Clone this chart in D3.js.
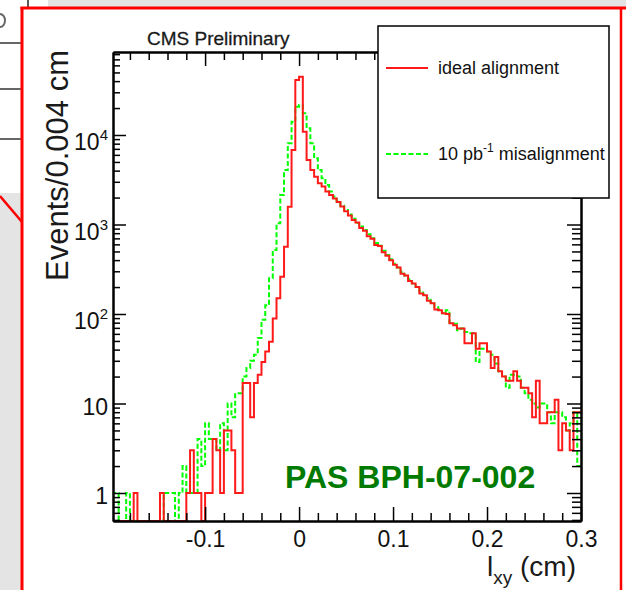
<!DOCTYPE html>
<html><head><meta charset="utf-8">
<script src="https://cdn.jsdelivr.net/npm/d3@7"></script>
<style>html,body{margin:0;padding:0;background:#fff;} svg{display:block;}</style>
</head><body>
<svg id="c" width="626" height="590"></svg>
<script>
// ---- data ----
const binStart = -0.2;
const binWidth = 0.004;
const idealCounts = [
  0,0,0,0,0, 0,1,0,0,0, 0,0,0,1,0, 0,0,0,0,0,
  1,3,1,1,0, 1,1,4,3,1, 5,5,3,1,1,
  17,17,7,17,21, 29,38,49,89,150, 261,565,1580,6800,41200,
  44800,10900,5260,4060,3420, 2890,2650,2330,2140,
  1950,1780,1585,1410,1260,1120,1050,912,851,741,692,589,575,490,447,398,355,331,282,269,234,219,200,170,162,141,132,112,110,
  102,100,79,75,69,69,47,47,61,41,47,47,38,25,33,23,20,18,18,23,18,15,15,13,
  7,18,6,6,8,8,11,3,6,5,3,8,8
];
const misCounts = [
  1,1,0,0,1,0, 0,0,0,0,0,0,0,0,
  1,1,1,0,1,2,1,1,1,4,2,6,4,4,3,6,3,10,7,13,13,
  20,25,30,35,54,86,125,251,519,1030,2140,4060,8080,14100,20700,21600,17500,11900,8080,5490,4060,3280,2760,2330,
  2050,1820,1620,1450,1290,1160,1040,950,870,780,700,620,580,510,455,410,365,330,295,270,245,220,200,180,165,150,135,120,112,
  102,110,80,78,66,69,63,61,61,29,41,41,38,35,28,23,20,15,21,21,20,15,13,11,10,9,10,10,8,6,8,8,7,5,6,8,2
];
const xMajorTicks = [-0.1, 0, 0.1, 0.2, 0.3];
const xTickLabels = ["-0.1", "0", "0.1", "0.2", "0.3"];
const yMajorTicks = [1, 10, 100, 1000, 10000];
const yTickBase = ["1", "10", "10", "10", "10"];
const yTickExp = ["", "", "2", "3", "4"];
const seriesNames = ["ideal alignment", "10 pb", "-1", " misalignment"];

// ---- drawing ----
const svg = d3.select("#c");
const FONT = "'Liberation Sans', Arial, Helvetica, sans-serif";
const L = 113, R = 581, T = 52, B = 521;

// slide background pieces
svg.append("rect").attr("x",0).attr("y",0).attr("width",626).attr("height",590).attr("fill","#fff");
svg.append("rect").attr("x",48).attr("y",0).attr("width",578).attr("height",8).attr("fill","#e4e4e4");
svg.append("line").attr("x1",28).attr("x2",28).attr("y1",0).attr("y2",7).attr("stroke","#222").attr("stroke-width",1.5);
svg.append("rect").attr("x",0).attr("y",193).attr("width",22).attr("height",397).attr("fill","#e4e4e4");
[43, 89, 139].forEach(v => svg.append("line").attr("x1",0).attr("x2",22).attr("y1",v).attr("y2",v).attr("stroke","#333").attr("stroke-width",1.5));
// fragment of a glyph cut by the crop at the top-left
svg.append("path").attr("d","M0,14 A5,6.5 0 0 1 0,27").attr("fill","none").attr("stroke","#666").attr("stroke-width",2);
svg.append("line").attr("x1",0).attr("y1",196).attr("x2",22).attr("y2",222).attr("stroke","#f00").attr("stroke-width",2.5);
// red frame
svg.append("line").attr("x1",20.5).attr("x2",626).attr("y1",8).attr("y2",8).attr("stroke","#f00").attr("stroke-width",3);
svg.append("line").attr("x1",22).attr("x2",22).attr("y1",7).attr("y2",590).attr("stroke","#f00").attr("stroke-width",3);
svg.append("line").attr("x1",621).attr("x2",621).attr("y1",7).attr("y2",590).attr("stroke","#f00").attr("stroke-width",2.5);

const x = d3.scaleLinear().domain([-0.198, 0.3]).range([L, R]);
const y = d3.scaleLog().domain([0.4866, 84600]).range([B, T]);

svg.append("defs").append("clipPath").attr("id","plotclip")
  .append("rect").attr("x",L).attr("y",T-2).attr("width",R-L).attr("height",B-T+3);

function stepPoints(counts){
  const pts = counts.map((c,i) => [binStart + i*binWidth, c]);
  pts.push([binStart + counts.length*binWidth, counts[counts.length-1]]);
  return pts;
}
const yv = c => c > 0 ? y(c) : B;
const line = d3.line().x(d => x(d[0])).y(d => yv(d[1])).curve(d3.curveStepAfter);

const gPlot = svg.append("g").attr("clip-path","url(#plotclip)");
gPlot.append("path").attr("d", line(stepPoints(misCounts)))
  .attr("fill","none").attr("stroke","#00ff00").attr("stroke-width",2).attr("stroke-dasharray","5,2.5");
gPlot.append("path").attr("d", line(stepPoints(idealCounts)))
  .attr("fill","none").attr("stroke","#ff1a1a").attr("stroke-width",2);

// axes
const xMinor = d3.range(-0.18, 0.3001, 0.02).map(v => +v.toFixed(3)).filter(v => !xMajorTicks.some(m => Math.abs(m-v) < 1e-6));
const yMinor = [];
[0.1,1,10,100,1000,10000].forEach(d => { for (let m=2; m<=9; m++){ const v=d*m; if (v>0.4866 && v<84600) yMinor.push(v);} });

function styleAxis(g){
  g.selectAll("path.domain").attr("stroke","#000").attr("stroke-width",2);
  g.selectAll(".tick line").attr("stroke","#000").attr("stroke-width",1.5);
}
const axB = svg.append("g").attr("transform",`translate(0,${B})`)
  .call(d3.axisBottom(x).tickValues(xMajorTicks).tickSize(-14).tickSizeOuter(0).tickPadding(10).tickFormat((d,i)=>xTickLabels[i]));
axB.selectAll("text").attr("font-family",FONT).attr("font-size",23).attr("fill","#111");
styleAxis(axB);
const axBm = svg.append("g").attr("transform",`translate(0,${B})`)
  .call(d3.axisBottom(x).tickValues(xMinor).tickSize(-8).tickSizeOuter(0).tickFormat(""));
styleAxis(axBm);
const axT = svg.append("g").attr("transform",`translate(0,${T})`)
  .call(d3.axisTop(x).tickValues(xMajorTicks).tickSize(-14).tickSizeOuter(0).tickFormat(""));
styleAxis(axT);
const axTm = svg.append("g").attr("transform",`translate(0,${T})`)
  .call(d3.axisTop(x).tickValues(xMinor).tickSize(-8).tickSizeOuter(0).tickFormat(""));
styleAxis(axTm);
const axL = svg.append("g").attr("transform",`translate(${L},0)`)
  .call(d3.axisLeft(y).tickValues(yMajorTicks).tickSize(-13).tickSizeOuter(0).tickFormat(""));
styleAxis(axL);
const axLm = svg.append("g").attr("transform",`translate(${L},0)`)
  .call(d3.axisLeft(y).tickValues(yMinor).tickSize(-7).tickSizeOuter(0).tickFormat(""));
styleAxis(axLm);
const axR = svg.append("g").attr("transform",`translate(${R},0)`)
  .call(d3.axisRight(y).tickValues(yMajorTicks).tickSize(-14).tickSizeOuter(0).tickFormat(""));
styleAxis(axR);
const axRm = svg.append("g").attr("transform",`translate(${R},0)`)
  .call(d3.axisRight(y).tickValues(yMinor).tickSize(-9).tickSizeOuter(0).tickFormat(""));
styleAxis(axRm);

// y tick labels
yMajorTicks.forEach((v,i) => {
  const t = svg.append("text").attr("x",108).attr("text-anchor","end")
    .attr("font-family",FONT).attr("font-size",23).attr("fill","#111");
  if (yTickExp[i]) {
    t.attr("y", y(v)+15);
    t.append("tspan").text(yTickBase[i]);
    t.append("tspan").attr("font-size",15).attr("dy",-10).text(yTickExp[i]);
  } else {
    t.attr("y", y(v)+11).text(yTickBase[i]);
  }
});

// titles
svg.append("text").attr("transform","translate(68,50) rotate(-90)").attr("text-anchor","end")
  .attr("font-family",FONT).attr("font-size",31).attr("fill","#1a1a1a").text("Events/0.004 cm");
const xt = svg.append("text").attr("x",576).attr("y",576).attr("text-anchor","end")
  .attr("font-family",FONT).attr("font-size",28).attr("fill","#1a1a1a");
xt.append("tspan").text("l");
xt.append("tspan").attr("font-size",19).attr("dy",8).text("xy");
xt.append("tspan").attr("dy",-8).text(" (cm)");
svg.append("text").attr("x",147).attr("y",45).attr("font-family",FONT).attr("font-size",19)
  .attr("fill","#1a1a1a").attr("stroke","#1a1a1a").attr("stroke-width",0.3).text("CMS Preliminary");
svg.append("text").attr("x",285).attr("y",488).attr("font-family",FONT).attr("font-size",32)
  .attr("font-weight","bold").attr("fill","#007a00").text("PAS BPH-07-002");

// legend
const lg = svg.append("g");
lg.append("rect").attr("x",378).attr("y",26).attr("width",231).attr("height",172)
  .attr("fill","#fff").attr("stroke","#000").attr("stroke-width",1.5);
lg.append("line").attr("x1",386).attr("x2",428).attr("y1",68).attr("y2",68).attr("stroke","#ff1a1a").attr("stroke-width",2);
lg.append("text").attr("x",438).attr("y",74).attr("font-family",FONT).attr("font-size",18).attr("fill","#111").text(seriesNames[0]);
lg.append("line").attr("x1",386).attr("x2",428).attr("y1",154).attr("y2",154).attr("stroke","#00ff00").attr("stroke-width",2).attr("stroke-dasharray","5,2.5");
const lt = lg.append("text").attr("x",438).attr("y",160).attr("font-family",FONT).attr("font-size",18).attr("fill","#111");
lt.append("tspan").text(seriesNames[1]);
lt.append("tspan").attr("font-size",12).attr("dy",-8).text(seriesNames[2]);
lt.append("tspan").attr("dy",8).text(seriesNames[3]);
</script>
</body></html>
